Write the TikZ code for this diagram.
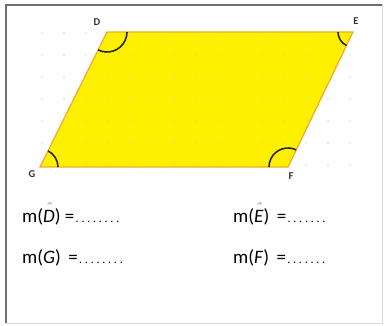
\documentclass[tikz,border=0pt]{standalone}
\usepackage{fontspec}
\setmainfont{Carlito}
\usetikzlibrary{positioning,calc}
\definecolor{frameline}{RGB}{110,110,110}
\definecolor{paraedge}{RGB}{240,170,40}
\definecolor{parafill}{RGB}{255,240,0}
\definecolor{griddot}{RGB}{200,200,200}
\newcommand{\fillin}[1]{{\fontsize{12}{13}\selectfont\foreach \k in {1,...,#1}{\makebox[5.8pt]{.}}}}
\newcommand{\angname}[1]{\ooalign{\textit{#1}\cr\hidewidth\raisebox{0.7ex}{\color{gray!70}\textit{ˆ}}\hidewidth\cr}}

\begin{document}
\begin{tikzpicture}[x=1pt,y=1pt,
          vlab/.style={font=\fontsize{10.5}{11}\selectfont\bfseries,text=black!80,inner sep=1pt},
          ang/.style={draw=black!85,line width=1.6pt},
          meas/.style={font=\fontsize{19}{21}\selectfont,anchor=base west,inner sep=0pt}
        ]
        \useasboundingbox (0,0) rectangle (385,-325);
        % frame
        \draw[black!15,line width=1pt] (382,-4) -- (382,-323) -- (6,-323);
        \draw[frameline,line width=1.6pt] (6,-323) -- (6,-5) -- (382,-5);
        % vertices
        \coordinate (D) at (107,-32);
        \coordinate (E) at (353,-32);
        \coordinate (F) at (288,-167);
        \coordinate (G) at (40,-167);
        \filldraw[fill=parafill,draw=paraedge,line width=1.2pt] (G) -- (D) -- (E) -- (F) -- cycle;
        % dot grid
        \foreach \yy in {33,55,77,99,121,143,165}
          \foreach \xx in {42,64,...,354}
            \fill[griddot,opacity=0.7] (\xx,-\yy) circle (0.9);
        % angle marks
        \draw[ang] (D) ++(243.6:20) arc[start angle=243.6,end angle=360,radius=20];
        \draw[ang] (E) ++(180:15) arc[start angle=180,end angle=244.3,radius=15];
        \draw[ang] (F) ++(64.3:19) arc[start angle=64.3,end angle=180,radius=19];
        \draw[ang] (G) ++(0:18) arc[start angle=0,end angle=63.6,radius=18];
        % vertex names
        \node[vlab] (lD) at (97,-22)  {D};
        \node[vlab] (lE) at (356,-21) {E};
        \node[vlab] (lF) at (291,-176) {F};
        \node[vlab] (lG) at (32,-174) {G};
        % measures
        \node[meas] (mD) at (22,-222)  {m(\angname{D}) =\fillin{8}};
        \node[meas] (mE) at (233,-222) {m(\angname{E})\, =\fillin{7}};
        \node[meas] (mG) at (22,-263)  {m(\textit{G})\, =\fillin{8}};
        \node[meas] (mF) at (233,-263) {m(\textit{F})\, =\fillin{7}};
      \end{tikzpicture}
\end{document}
